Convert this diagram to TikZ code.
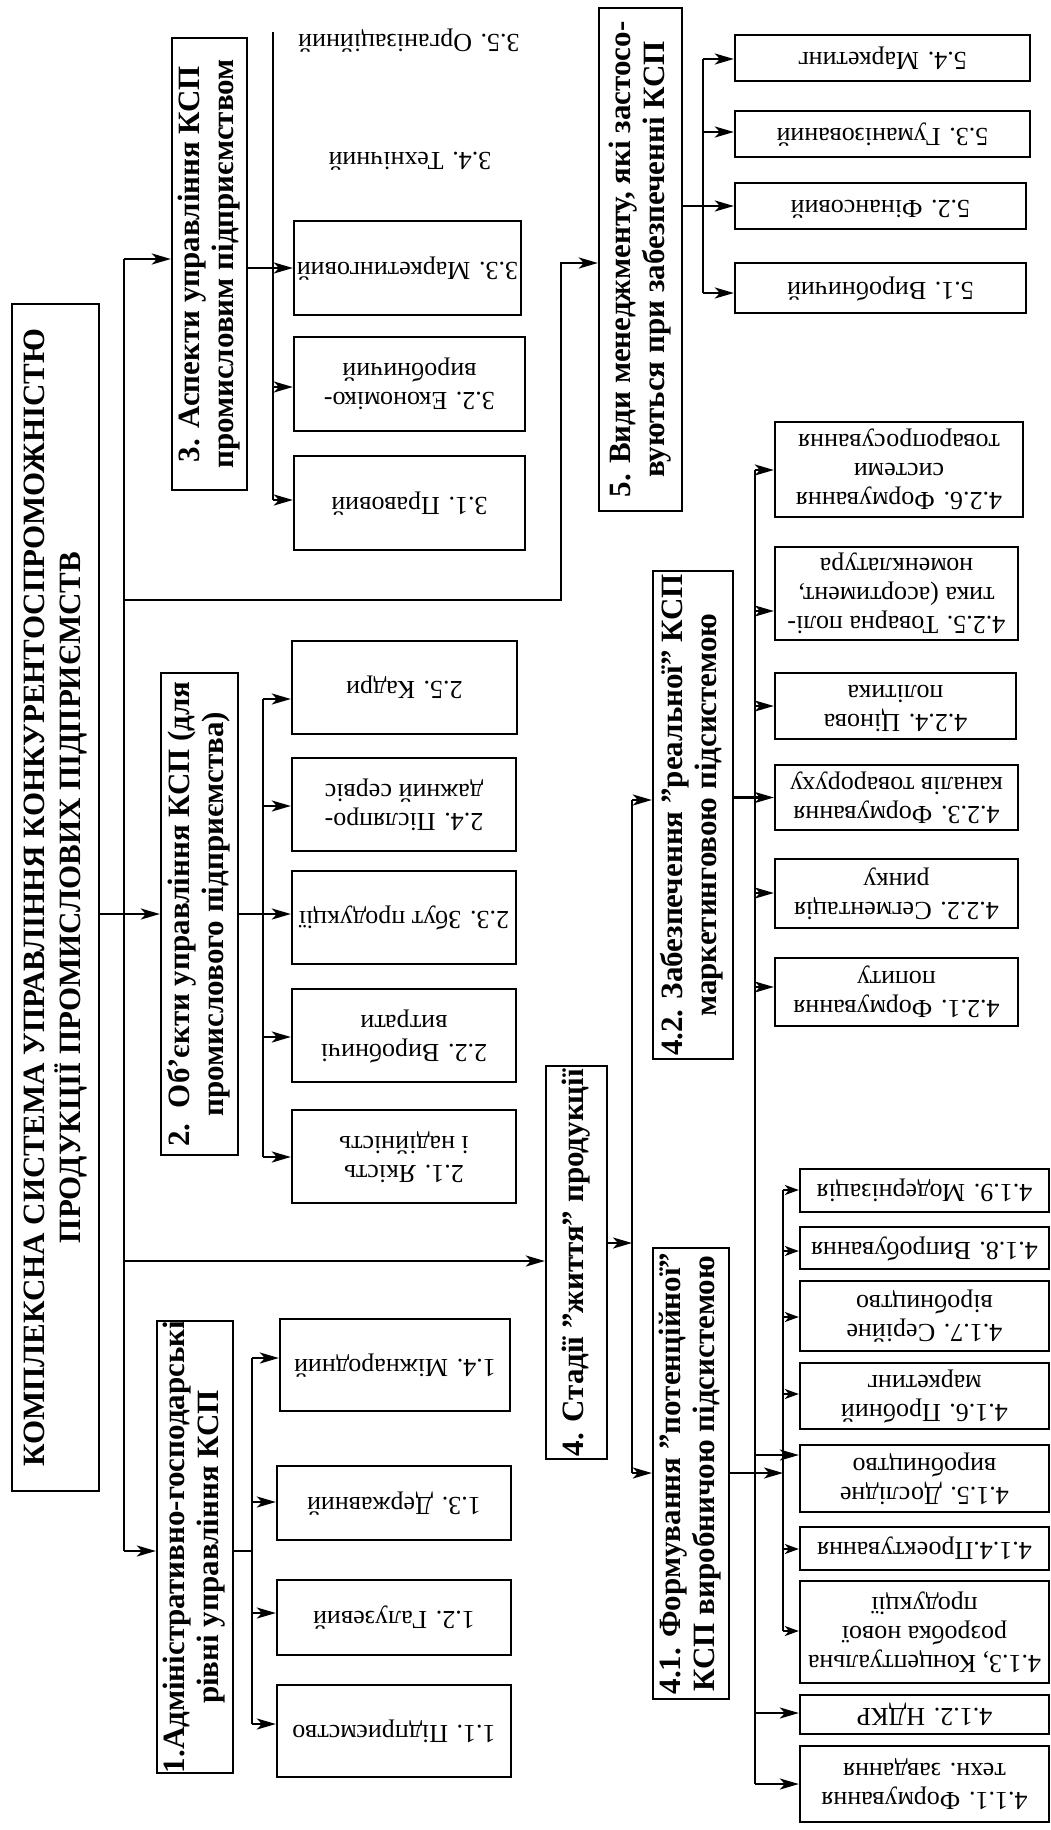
\documentclass[tikz,border=0pt]{standalone}
\usepackage{fontspec}
\setmainfont{Liberation Serif}
\usepackage{graphicx}
\usetikzlibrary{arrows.meta}
\newcommand\lfT[1]{\rotatebox{180}{\begin{tabular}{@{}c@{}}#1\end{tabular}}}
\newcommand\hdT[1]{\rotatebox{90}{\begin{tabular}{@{}c@{}}#1\end{tabular}}}
\begin{document}
\begin{tikzpicture}[x=1pt,y=-1pt,
 bx/.style n args={4}{minimum width={(#3-#1)*1pt}, minimum height={(#4-#2)*1pt}, at={({(#1+#3)/2},{(#2+#4)/2})}},
 lf/.style={draw, line width=2.3pt, inner sep=0pt, font=\fontsize{26}{29}\selectfont},
 hd/.style={draw, line width=2.3pt, inner sep=0pt, font=\fontsize{31}{34}\selectfont\bfseries},
 ln/.style={line width=2.3pt},
 ar/.style={line width=2.3pt, -{Stealth[length=19pt,width=11pt,inset=5pt]}},
 ars/.style={line width=2.3pt, -{Stealth[length=14pt,width=10pt,inset=4pt]}}]
\useasboundingbox (0,0) rectangle (1051,1830);
\fill[white] (0,0) rectangle (1051,1830);
% headers
\node[hd, bx={12}{304}{99}{1491}] (T) {\hdT{КОМПЛЕКСНА СИСТЕМА УПРАВЛІННЯ КОНКУРЕНТОСПРОМОЖНІСТЮ\\ПРОДУКЦІЇ ПРОМИСЛОВИХ ПІДПРИЄМСТВ}};
\node[hd, bx={172}{38}{247}{490}] (B3) {\hdT{3. Аспекти управління КСП\\промисловим підприємством}};
\node[hd, bx={161}{673}{238}{1155}] (B2) {\hdT{2.~~Об’єкти управління КСП (для\\промислового підприємства)}};
\node[hd, bx={157}{1323}{233}{1771}] (B1) {\hdT{1.Адміністративно-господарські\\рівні управління КСП}};
\node[hd, bx={599}{8}{682}{511}] (B5) {\hdT{5. Види менеджменту, які застосо-\\вуються при забезпеченні КСП}};
\node[hd, bx={546}{1066}{607}{1459}] (B4) {\hdT{4. Стадії ”життя” продукції}};
\node[hd, bx={653}{571}{733}{1059}] (B42) {\hdT{4.2. Забезпечення ”реальної” КСП\\маркетинговою підсистемою}};
\node[hd, bx={653}{1248}{729}{1699}] (B41) {\hdT{4.1. Формування ”потенційної”\\КСП виробничою підсистемою}};
% leaves group 1
\node[lf, bx={277}{1685}{511}{1777}] (L11) {\lfT{1.1. Підприємство}};
\node[lf, bx={277}{1580}{511}{1655}] (L12) {\lfT{1.2. Галузевий}};
\node[lf, bx={277}{1466}{511}{1540}] (L13) {\lfT{1.3. Державний}};
\node[lf, bx={280}{1319}{510}{1411}] (L14) {\lfT{1.4. Міжнародний}};
% group 2
\node[lf, bx={292}{1110}{516}{1203}] (L21) {\lfT{2.1. Якість\\і надійність}};
\node[lf, bx={292}{989}{516}{1082}] (L22) {\lfT{2.2. Виробничі\\витрати}};
\node[lf, bx={292}{871}{516}{964}] (L23) {\lfT{2.3. Збут продукції}};
\node[lf, bx={292}{758}{516}{851}] (L24) {\lfT{2.4. Післяпро-\\дажний сервіс}};
\node[lf, bx={292}{641}{517}{734}] (L25) {\lfT{2.5. Кадри}};
% group 3
\node[lf, bx={294}{456}{525}{550}] (L31) {\lfT{3.1. Правовий}};
\node[lf, bx={294}{337}{525}{431}] (L32) {\lfT{3.2. Економіко-\\виробничий}};
\node[lf, bx={294}{221}{521}{315}] (L33) {\lfT{3.3. Маркетинговий}};
\node[lf, draw=none, at={(410,158)}] (L34) {\lfT{3.4. Технічний}};
\node[lf, draw=none, at={(409,40)}] (L35) {\lfT{3.5. Організаційний}};
% group 5
\node[lf, bx={735}{263}{1026}{313}] (L51) {\lfT{5.1. Виробничий}};
\node[lf, bx={735}{183}{1026}{229}] (L52) {\lfT{5.2. Фінансовий}};
\node[lf, bx={735}{111}{1030}{157}] (L53) {\lfT{5.3. Гуманізований}};
\node[lf, bx={735}{35}{1030}{81}] (L54) {\lfT{5.4. Маркетинг}};
% group 4.2
\node[lf, bx={775}{422}{1023}{517}] (L426) {\lfT{4.2.6. Формування\\системи\\товаропросування}};
\node[lf, bx={775}{547}{1018}{640}] (L425) {\lfT{4.2.5. Товарна полі-\\тика (асортимент,\\номенклатура}};
\node[lf, bx={775}{673}{1016}{739}] (L424) {\lfT{4.2.4. Цінова\\політика}};
\node[lf, bx={775}{765}{1018}{830}] (L423) {\lfT{4.2.3. Формування\\каналів товароруху}};
\node[lf, bx={775}{859}{1018}{928}] (L422) {\lfT{4.2.2. Сегментація\\ринку}};
\node[lf, bx={775}{958}{1018}{1026}] (L421) {\lfT{4.2.1. Формування\\попиту}};
% group 4.1
\node[lf, bx={800}{1169}{1049}{1212}] (L419) {\lfT{4.1.9. Модернізація}};
\node[lf, bx={800}{1227}{1049}{1269}] (L418) {\lfT{4.1.8. Випробування}};
\node[lf, bx={800}{1281}{1049}{1351}] (L417) {\lfT{4.1.7. Серійне\\віробництво}};
\node[lf, bx={800}{1363}{1049}{1429}] (L416) {\lfT{4.1.6. Пробний\\маркетинг}};
\node[lf, bx={800}{1445}{1049}{1512}] (L415) {\lfT{4.1.5. Дослідне\\виробництво}};
\node[lf, bx={800}{1527}{1049}{1570}] (L414) {\lfT{4.1.4.Проектування}};
\node[lf, bx={800}{1581}{1049}{1683}] (L413) {\lfT{4.1.3, Концептуальна\\розробка нової\\продукції}};
\node[lf, bx={800}{1695}{1049}{1734}] (L412) {\lfT{4.1.2. НДКР}};
\node[lf, bx={800}{1746}{1049}{1822}] (L411) {\lfT{4.1.1. Формування\\техн. завдання}};
% main trunk
\coordinate (m3) at (124,259);
\coordinate (m5) at (124,600);
\coordinate (m2) at (124,914);
\coordinate (m4) at (124,1261);
\coordinate (m1) at (124,1551);
\draw[ln] (m3) -- (m1);
\draw[ar] (m3) -- (m3 -| B3.west);
\draw[ar] (T.east |- m2) -- (m2 -| B2.west);
\draw[ar] (m4) -- (m4 -| B4.west);
\draw[ar] (m1) -- (m1 -| B1.west);
\coordinate (c5) at (561,600);
\coordinate (k5) at (561,263);
\draw[ar] (m5) -- (c5) -- (k5) -- (k5 -| B5.west);
% group 3
\coordinate (g3t) at (273,32);
\coordinate (g3b) at (273,500);
\coordinate (a32) at (273,387);
\draw[ln] (g3t) -- (g3b);
\draw[ar] (B3.east |- L33.west) -- (L33.west);
\draw[ar] (a32) -- (a32 -| L32.west);
\draw[ar] (g3b) -- (g3b -| L31.west);
% group 2
\coordinate (g2t) at (263,699);
\coordinate (g2b) at (263,1157);
\coordinate (a24) at (263,806);
\coordinate (a22) at (263,1037);
\draw[ln] (g2t) -- (g2b);
\draw[ar] (g2t) -- (g2t -| L25.west);
\draw[ar] (a24) -- (a24 -| L24.west);
\draw[ar] (B2.east |- m2) -- (m2 -| L23.west);
\draw[ar] (a22) -- (a22 -| L22.west);
\draw[ar] (g2b) -- (g2b -| L21.west);
% group 1
\coordinate (g1t) at (252,1358);
\coordinate (g1b) at (252,1724);
\coordinate (a13) at (252,1502);
\coordinate (a12) at (252,1613);
\draw[ln] (g1t) -- (g1b);
\draw[ln] (B1.east |- m1) -- (g1t |- m1);
\draw[ar] (g1t) -- (g1t -| L14.west);
\draw[ar] (a13) -- (a13 -| L13.west);
\draw[ar] (a12) -- (a12 -| L12.west);
\draw[ar] (g1b) -- (g1b -| L11.west);
% group 5
\coordinate (g5t) at (703,59);
\coordinate (g5b) at (703,293);
\coordinate (a53) at (703,132);
\draw[ln] (g5t) -- (g5b);
\draw[ar] (B5.east |- L52.west) -- (L52.west);
\draw[ar] (g5t) -- (g5t -| L54.west);
\draw[ar] (a53) -- (a53 -| L53.west);
\draw[ar] (g5b) -- (g5b -| L51.west);
% group 4
\coordinate (g4t) at (632,800);
\coordinate (g4b) at (632,1473);
\coordinate (a4) at (632,1243);
\draw[ln] (g4t) -- (g4b);
\draw[ar] (a4 -| B4.east) -- (a4);
\draw[ar] (g4t) -- (g4t -| B42.west);
\draw[ar] (g4b) -- (g4b -| B41.west);
% group 4.2
\coordinate (g42t) at (755,470);
\coordinate (g42b) at (755,1784);
\coordinate (a425) at (755,611);
\coordinate (a424) at (755,706);
\coordinate (a422) at (755,893);
\coordinate (a421) at (755,987);
\coordinate (a415) at (755,1455);
\coordinate (a412) at (755,1713);
\draw[ln] (g42t) -- (g42b);
\draw[ar] (B42.east |- L423.west) -- (L423.west);
\draw[ar] (g42t) -- (g42t -| L426.west);
\draw[ar] (a425) -- (a425 -| L425.west);
\draw[ar] (a424) -- (a424 -| L424.west);
\draw[ar] (a422) -- (a422 -| L422.west);
\draw[ar] (a421) -- (a421 -| L421.west);
\draw[ar] (a415) -- (a415 -| L415.west);
\draw[ar] (a412) -- (a412 -| L412.west);
\draw[ar] (g42b) -- (g42b -| L411.west);
% group 4.1
\coordinate (g41t) at (783,1190);
\coordinate (g41b) at (783,1631);
\coordinate (a41) at (783,1473);
\coordinate (a418) at (783,1251);
\coordinate (a417) at (783,1317);
\coordinate (a416) at (783,1394);
\coordinate (a414) at (783,1549);
\draw[ln] (g41t) -- (g41b);
\draw[ar] (a41 -| B41.east) -- (a41);
\draw[ars] (g41t) -- (g41t -| L419.west);
\draw[ars] (a418) -- (a418 -| L418.west);
\draw[ars] (a417) -- (a417 -| L417.west);
\draw[ars] (a416) -- (a416 -| L416.west);
\draw[ars] (a414) -- (a414 -| L414.west);
\draw[ars] (g41b) -- (g41b -| L413.west);
\end{tikzpicture}
\end{document}
